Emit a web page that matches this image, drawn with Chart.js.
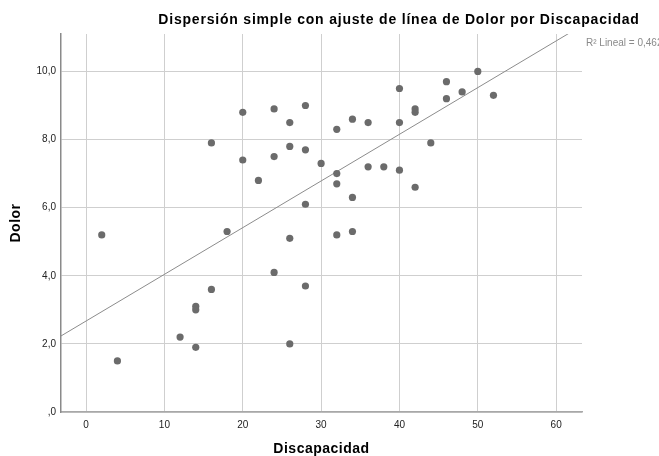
<!DOCTYPE html>
<html>
<head>
<meta charset="utf-8">
<script src="https://cdn.jsdelivr.net/npm/chart.js@4/dist/chart.umd.min.js"></script>
<style>
  html, body { margin: 0; padding: 0; background: #fff; }
  #wrap { width: 659px; height: 456px; }
</style>
</head>
<body>
<div id="wrap"><canvas id="c" width="659" height="456"></canvas></div>
<script>
// Discapacidad (x) and Dolor (y) per case
const discapacidad = [2, 4, 12, 14, 14, 14, 16, 16, 18, 20, 20, 22, 24, 24, 24, 26, 26, 26, 26,
  28, 28, 28, 28, 30, 32, 32, 32, 32, 34, 34, 34, 36, 36, 38, 40, 40, 40, 42, 42, 42, 44,
  46, 46, 48, 50, 52];
const dolor = [5.2, 1.5, 2.2, 3.1, 3.0, 1.9, 3.6, 7.9, 5.3, 8.8, 7.4, 6.8, 8.9, 7.5, 4.1, 8.5, 7.8, 5.1, 2.0,
  9.0, 7.7, 6.1, 3.7, 7.3, 8.3, 7.0, 6.7, 5.2, 8.6, 6.3, 5.3, 8.5, 7.2, 7.2, 9.5, 8.5, 7.1, 8.9, 8.8, 6.6, 7.9,
  9.7, 9.2, 9.4, 10.0, 9.3];

const xTicks = [0, 10, 20, 30, 40, 50, 60];
const xTickLabels = ["0", "10", "20", "30", "40", "50", "60"];
const yTicks = [0, 2, 4, 6, 8, 10];
const yTickLabels = [",0", "2,0", "4,0", "6,0", "8,0", "10,0"];

const xRange = [-3.2, 63.3];
const yRange = [0, 11.1];

const titleText = "Dispersión simple con ajuste de línea de Dolor por Discapacidad";
const xTitle = "Discapacidad";
const yTitle = "Dolor";
const fitLabel = "R² Lineal = 0,462";

// least squares fit of Dolor on Discapacidad
const n = discapacidad.length;
const mx = discapacidad.reduce((a, b) => a + b, 0) / n;
const my = dolor.reduce((a, b) => a + b, 0) / n;
let sxy = 0, sxx = 0;
for (let i = 0; i < n; i++) {
  sxy += (discapacidad[i] - mx) * (dolor[i] - my);
  sxx += (discapacidad[i] - mx) * (discapacidad[i] - mx);
}
const slope = sxy / sxx;
const intercept = my - slope * mx;

const points = discapacidad.map((x, i) => ({ x: x, y: dolor[i] }));
const fitLine = xRange.map(x => ({ x: x, y: intercept + slope * x }));

const FONT = "'Liberation Sans', Arial, sans-serif";

// chart title, axis titles and fit annotation
const textPlugin = {
  id: 'texts',
  afterDraw(chart) {
    const ctx = chart.ctx;
    const area = chart.chartArea;
    ctx.save();
    ctx.fillStyle = '#000';
    ctx.textBaseline = 'middle';
    ctx.textAlign = 'center';

    ctx.font = 'bold 14px ' + FONT;
    ctx.letterSpacing = '0.8px';
    ctx.fillText(titleText, 399, 20);

    ctx.letterSpacing = '0.5px';
    ctx.fillText(xTitle, (area.left + area.right) / 2, 449);

    ctx.save();
    ctx.translate(16, (area.top + area.bottom) / 2);
    ctx.rotate(-Math.PI / 2);
    ctx.fillText(yTitle, 0, 0);
    ctx.restore();

    ctx.letterSpacing = '0px';
    ctx.fillStyle = '#8a8a8a';
    ctx.font = '10px ' + FONT;
    ctx.textAlign = 'left';
    ctx.fillText(fitLabel, 586, 43);
    ctx.restore();
  }
};

new Chart(document.getElementById('c'), {
  type: 'scatter',
  data: {
    datasets: [
      {
        type: 'line',
        data: fitLine,
        borderColor: '#8c8c8c',
        borderWidth: 1,
        pointRadius: 0,
        fill: false,
        order: 2
      },
      {
        data: points,
        backgroundColor: '#6b6b6b',
        borderColor: '#6b6b6b',
        borderWidth: 0,
        pointRadius: 3.6,
        order: 1
      }
    ]
  },
  options: {
    responsive: false,
    animation: false,
    devicePixelRatio: 1,
    layout: { padding: { left: 0, right: 77, top: 34, bottom: 0 } },
    plugins: {
      legend: { display: false },
      tooltip: { enabled: false },
      title: { display: false }
    },
    scales: {
      x: {
        type: 'linear',
        min: xRange[0],
        max: xRange[1],
        afterBuildTicks(scale) { scale.ticks = xTicks.map(v => ({ value: v })); },
        afterFit(scale) { scale.height = 44; },
        grid: { color: '#cfcfcf', lineWidth: 1, drawTicks: false },
        border: { color: '#a8a8a8', width: 1.5 },
        ticks: {
          padding: 7,
          color: '#222',
          font: { family: FONT, size: 10 },
          callback(v) { const i = xTicks.indexOf(v); return i >= 0 ? xTickLabels[i] : ''; }
        }
      },
      y: {
        type: 'linear',
        min: yRange[0],
        max: yRange[1],
        afterBuildTicks(scale) { scale.ticks = yTicks.map(v => ({ value: v })); },
        afterFit(scale) { scale.width = 61; },
        grid: { color: '#cfcfcf', lineWidth: 1, drawTicks: false },
        border: { color: '#8a8a8a', width: 1.5 },
        ticks: {
          padding: 5,
          color: '#222',
          font: { family: FONT, size: 10 },
          callback(v) { const i = yTicks.indexOf(v); return i >= 0 ? yTickLabels[i] : ''; }
        }
      }
    }
  },
  plugins: [textPlugin]
});
</script>
</body>
</html>
